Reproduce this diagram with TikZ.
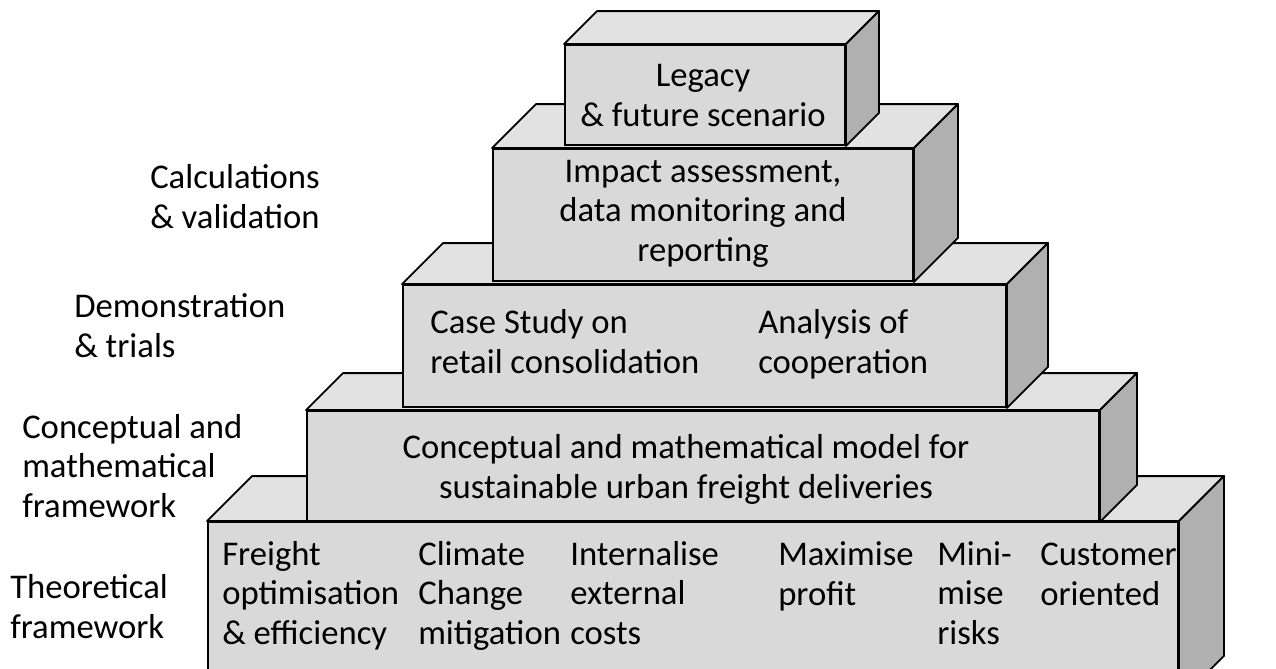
\documentclass[tikz,border=0pt]{standalone}
\usepackage{fontspec}
\setmainfont{Carlito}
\usetikzlibrary{fit}

\definecolor{blockfront}{HTML}{D9D9D9}
\definecolor{blocktop}{HTML}{E2E2E2}
\definecolor{blockside}{HTML}{B0B0B0}

\tikzset{
  blockface/.style={draw, line width=1.4pt, fill=blockfront, inner sep=0pt},
  topface/.style={draw, line width=1.4pt, fill=blocktop, line join=round},
  sideface/.style={draw, line width=1.4pt, fill=blockside, line join=round},
  % text nodes sit on the baseline of their last line
  lbl/.style={font=\fontsize{26}{29.6}\selectfont, inner sep=0pt, align=left, anchor=base west},
  mid/.style={font=\fontsize{26}{29.6}\selectfont, inner sep=0pt, align=center, anchor=base},
}

% block: name, left, top, right, bottom, depth
\newcommand{\block}[6]{%
  \node[blockface, fit={(#2,#3) (#4,#5)}] (#1) {};
  \draw[topface] (#1.north west) -- ++(#6,-#6) -- ([shift={(#6,-#6)}]#1.north east)
    -- (#1.north east) -- cycle;
  \draw[sideface] (#1.north east) -- ++(#6,-#6) -- ([shift={(#6,-#6)}]#1.south east)
    -- (#1.south east) -- cycle;
}

\begin{document}
\begin{tikzpicture}[x=0.75pt, y=-0.75pt]
  \useasboundingbox (0,0) rectangle (1276,668);

  % levels, bottom up
  \block{base}{208}{522}{1178}{700}{45}
  \block{model}{307}{411}{1099}{521}{37}
  \block{trials}{403}{285}{1006}{407}{41}
  \block{impact}{493}{149}{913}{281}{44}
  \block{legacy}{565}{45}{845}{145}{33}

  % texts on the blocks
  \node[mid] (legacytxt) at (703,126) {Legacy\\\& future scenario};
  \node[mid] (impacttxt) at (703,261) {Impact assessment,\\data monitoring and\\reporting};
  \node[lbl] (casetxt) at (430,373) {Case Study on\\retail consolidation};
  \node[lbl] (coopetxt) at (758,373) {Analysis of\\cooperation};
  \node[mid] (modeltxt) at (686,498) {Conceptual and mathematical model for\\sustainable urban freight deliveries};

  \node[lbl] (freight) at (222,644) {Freight\\optimisation\\\& efficiency};
  \node[lbl] (climate) at (418,644) {Climate\\Change\\mitigation};
  \node[lbl] (costs) at (570,644) {Internalise\\external\\costs};
  \node[lbl] (profit) at (778,605) {Maximise\\profit};
  \node[lbl] (risks) at (937,644) {Mini-\\mise\\risks};
  \node[lbl] (customer) at (1040,605) {Customer\\oriented};

  % level names on the left
  \node[lbl] (calc) at (150,228) {Calculations\\\& validation};
  \node[lbl] (demo) at (74,357) {Demonstration\\\& trials};
  \node[lbl] (concept) at (22,517) {Conceptual and\\mathematical\\framework};
  \node[lbl] (theory) at (10,638) {Theoretical\\framework};
\end{tikzpicture}
\end{document}
